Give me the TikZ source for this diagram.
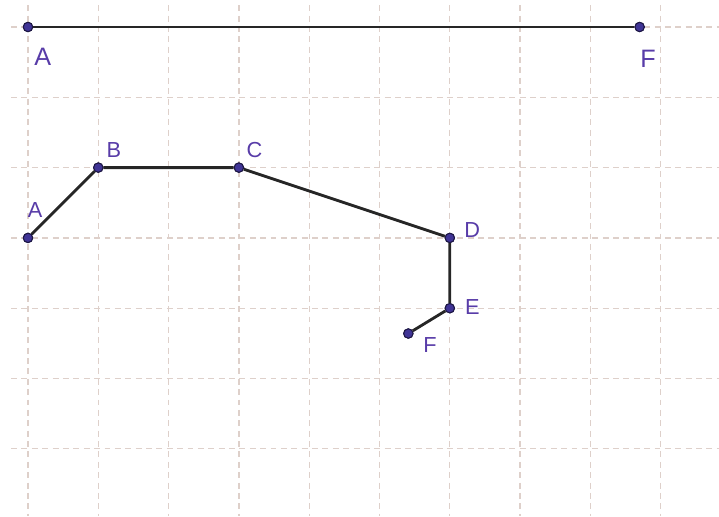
\documentclass[tikz,border=0pt]{standalone}
\usepackage{fontspec}
\setmainfont{Liberation Sans}
\usepackage{xcolor}
\usetikzlibrary{calc}
\definecolor{ptblue}{RGB}{64,52,150}
\definecolor{lblpurple}{RGB}{88,60,168}
\definecolor{gridpink}{RGB}{222,208,202}

\begin{document}
\begin{tikzpicture}[
  gridline/.style={gridpink, line width=0.5pt, dash pattern=on 2.4pt off 1.8pt},
  pt/.style={circle, fill=ptblue, draw=ptblue!45!black, line width=0.4pt, inner sep=0pt, minimum size=3.8pt},
  seg/.style={black!85, line width=1.15pt},
  biglbl/.style={text=lblpurple, font=\fontsize{10.2}{12}\selectfont, inner sep=0pt},
  lbl/.style={text=lblpurple, font=\fontsize{8.8}{10}\selectfont, inner sep=0pt}]
  \useasboundingbox (-0.398,0.384) rectangle (9.829,-6.956);
  % grid
  \foreach \x in {0,...,9}
    \draw[gridline] (\x,0.31) -- (\x,-6.956);
  \foreach \y in {0,...,6}
    \draw[gridline] (-0.24,-\y) -- (9.829,-\y);
  % straight segment
  \node[pt] (a1) at (0,0) {};
  \node[pt] (f1) at (8.7,0) {};
  \draw[seg] (a1) -- (f1);
  \node[biglbl] (la1) at (0.21,-0.42) {A};
  \node[biglbl] (lf1) at (8.82,-0.46) {F};
  % broken line
  \node[pt] (a2) at (0,-3) {};
  \node[pt] (b2) at (1,-2) {};
  \node[pt] (c2) at (3,-2) {};
  \node[pt] (d2) at (6,-3) {};
  \node[pt] (e2) at (6,-4) {};
  \node[pt] (f2) at (5.41,-4.36) {};
  \draw[seg] (a2) -- (b2) -- (c2) -- (d2) -- (e2) -- (f2);
  \node[lbl] (la2) at (0.1,-2.61) {A};
  \node[lbl] (lb2) at (1.22,-1.75) {B};
  \node[lbl] (lc2) at (3.22,-1.75) {C};
  \node[lbl] (ld2) at (6.32,-2.89) {D};
  \node[lbl] (le2) at (6.32,-3.99) {E};
  \node[lbl] (lf2) at (5.72,-4.53) {F};
  % redraw points on top
  \foreach \p in {a1,f1,a2,b2,c2,d2,e2,f2}
    \node[pt] at (\p) {};
\end{tikzpicture}
\end{document}
